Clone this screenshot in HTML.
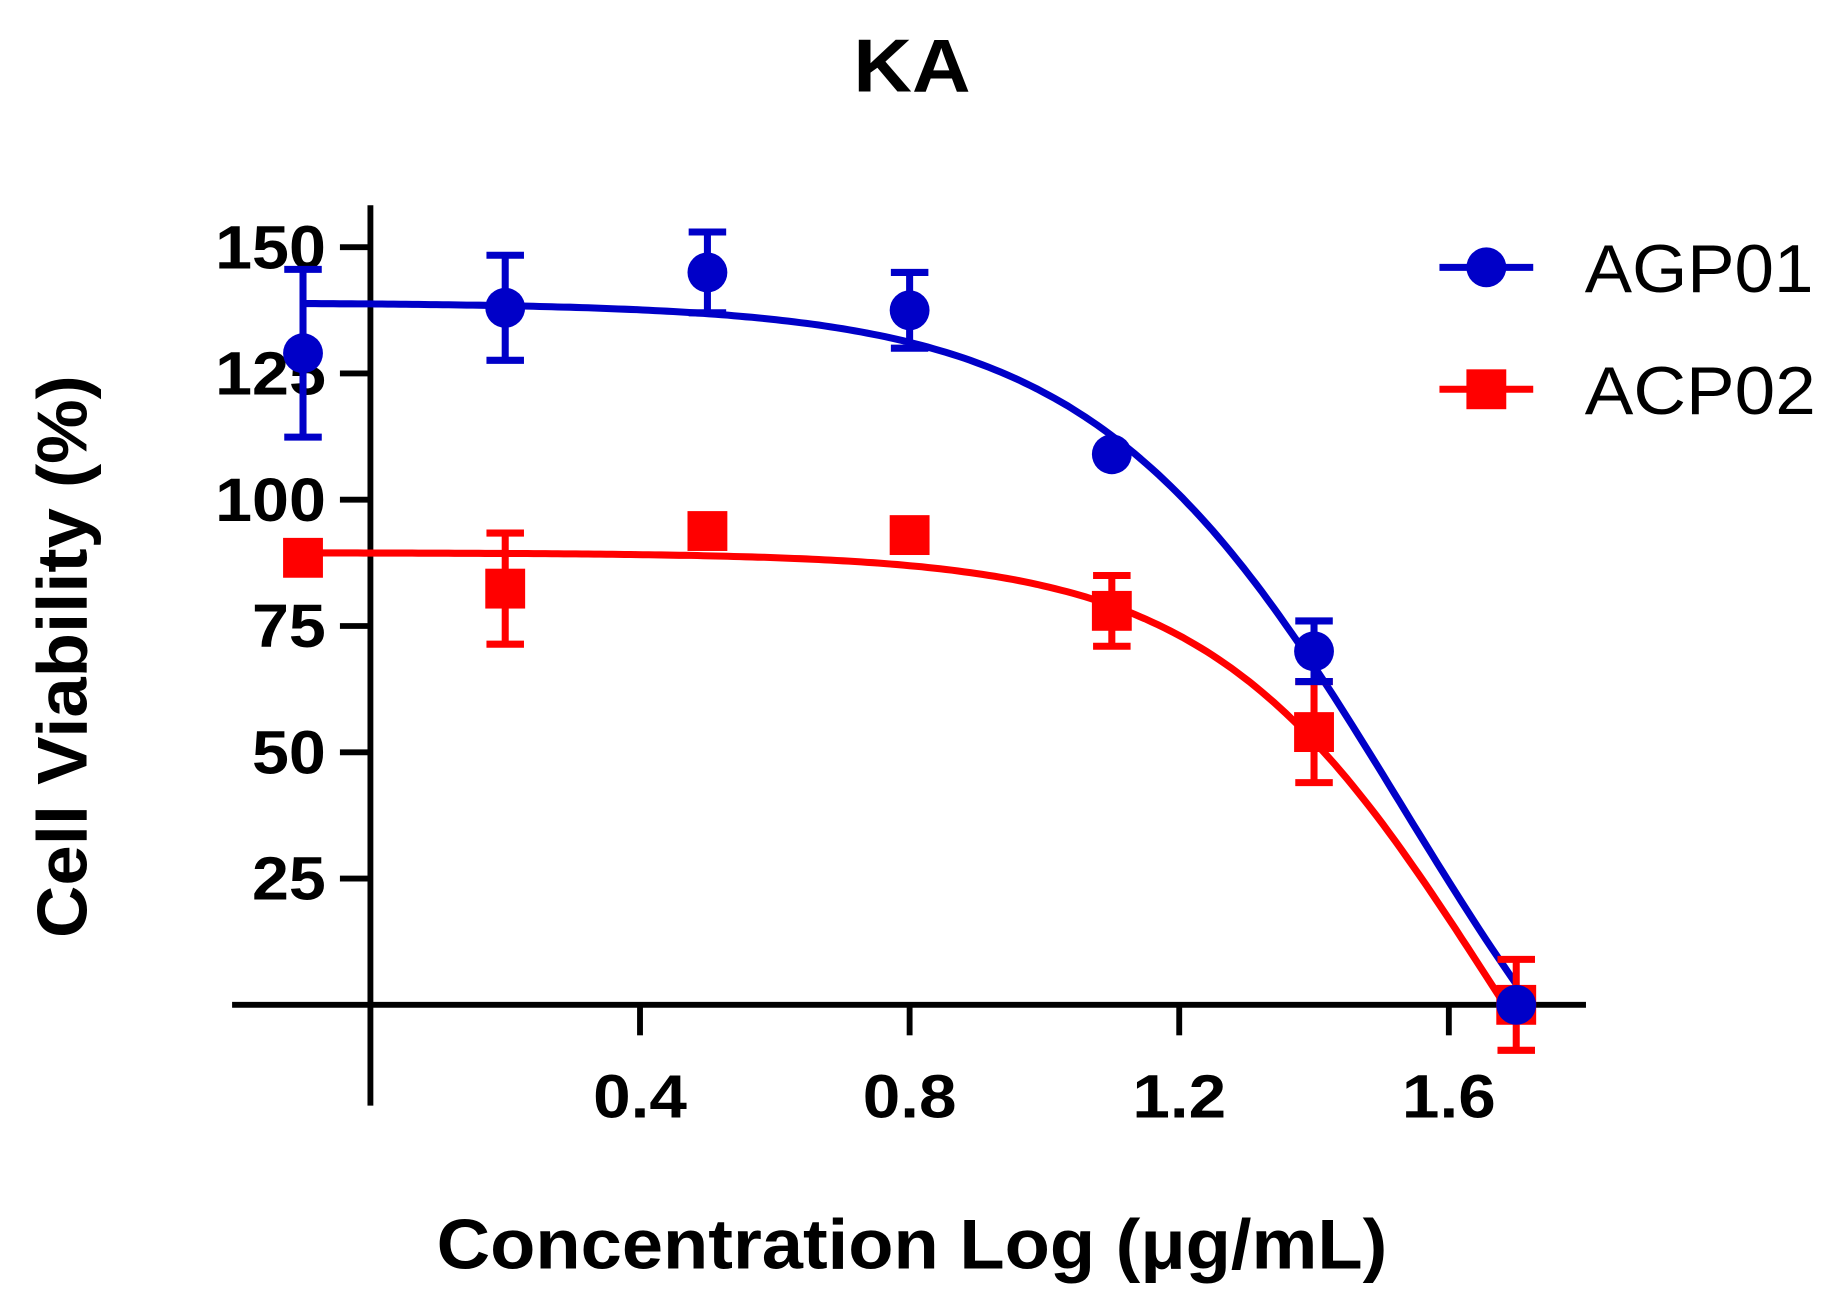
<!DOCTYPE html>
<html><head><meta charset="utf-8"><style>
html,body{margin:0;padding:0;background:#fff;}
svg{display:block;}
text{font-family:"Liberation Sans",Arial,sans-serif;}
</style></head><body>
<svg id="chart" width="1838" height="1305" viewBox="0 0 1568 1113" preserveAspectRatio="none" xmlns="http://www.w3.org/2000/svg">
<text x="778" y="78" font-size="64" font-weight="bold" text-anchor="middle" textLength="100" lengthAdjust="spacingAndGlyphs">KA</text>
<text transform="translate(74,560) rotate(-90)" font-size="60" font-weight="bold" text-anchor="middle" textLength="480" lengthAdjust="spacingAndGlyphs">Cell Viability (%)</text>
<text x="778" y="1082" font-size="60" font-weight="bold" text-anchor="middle" textLength="811" lengthAdjust="spacingAndGlyphs">Concentration Log (μg/mL)</text>
<g id="axes"></g>
<g id="marks"></g>
<g>
  <g>
    <line x1="1228" y1="228" x2="1308" y2="228" stroke="#0000c8" stroke-width="6"/>
    <circle cx="1268" cy="228" r="17" fill="#0000c8"/>
    <text x="1352" y="249" font-size="58" textLength="195" lengthAdjust="spacingAndGlyphs">AGP01</text>
  </g>
  <g>
    <line x1="1228" y1="332" x2="1308" y2="332" stroke="#ff0000" stroke-width="6"/>
    <rect x="1251" y="315" width="34" height="34" fill="#ff0000"/>
    <text x="1352" y="353" font-size="58" textLength="197" lengthAdjust="spacingAndGlyphs">ACP02</text>
  </g>
</g>
</svg>
<script>
const xValues = [-0.1, 0.2, 0.5, 0.8, 1.1, 1.4, 1.7];
const agpValues = [129, 138, 145, 137.5, 109, 70, 0];
const agpErrors = [16.6, 10.4, 8, 7.5, 0, 6, 0];
const acpValues = [88.5, 82.4, 93.8, 93, 78, 54, 0];
const acpErrors = [0, 11, 0, 0, 7, 10, 9];
const agpFit = [139, -60, 1.53, 1.9];   // top, bottom, logIC50, hill
const acpFit = [89.5, -80, 1.66, 2.11];
const yTicks = [25, 50, 75, 100, 125, 150];
const xTicks = [0.4, 0.8, 1.2, 1.6];

const NS = "http://www.w3.org/2000/svg";
const sx = v => 316 + v * 575;
const sy = v => 857 - v * 4.308;
function mk(tag, attrs, parent) {
  const e = document.createElementNS(NS, tag);
  for (const k in attrs) e.setAttribute(k, attrs[k]);
  parent.appendChild(e);
  return e;
}
const axes = document.getElementById('axes');
const marks = document.getElementById('marks');

let ax = mk('line', {x1: sx(0), y1: 175, x2: sx(0), y2: 943, stroke: '#000', 'stroke-width': 5}, axes);


ax = mk('line', {x1: 198, y1: sy(0), x2: 1353, y2: sy(0), stroke: '#000', 'stroke-width': 5}, axes);



yTicks.forEach(t => {
  const l = mk('line', {x1: sx(0) - 26, y1: sy(t), x2: sx(0), y2: sy(t), stroke: '#000', 'stroke-width': 5}, axes);
  
  
  const s = String(t);
  const tx = mk('text', {x: 278, y: sy(t) + 18, 'font-size': 52, 'font-weight': 'bold', 'text-anchor': 'end', textLength: s.length * 31.5, lengthAdjust: 'spacingAndGlyphs'}, axes);
  tx.textContent = s;
  
  
});
xTicks.forEach(t => {
  const l = mk('line', {x1: sx(t), y1: sy(0), x2: sx(t), y2: sy(0) + 26, stroke: '#000', 'stroke-width': 5}, axes);
  
  
  const tx = mk('text', {x: sx(t), y: 953, 'font-size': 52, 'font-weight': 'bold', 'text-anchor': 'middle', textLength: 80, lengthAdjust: 'spacingAndGlyphs'}, axes);
  tx.textContent = t.toFixed(1);
  
  
});

function curve(fit, color, name) {
  const [top, bot, c, h] = fit;
  let d = '';
  const x0 = xValues[0], x1 = xValues[xValues.length - 1];
  for (let i = 0; i <= 200; i++) {
    const x = x0 + (x1 - x0) * i / 200;
    const y = bot + (top - bot) / (1 + Math.pow(10, (x - c) * h));
    d += (i ? 'L' : 'M') + sx(x).toFixed(1) + ' ' + sy(Math.max(y, 0)).toFixed(1);
  }
  const p = mk('path', {d: d, fill: 'none', stroke: color, 'stroke-width': 6}, marks);
  
  
}
function errs(vals, es, color, name) {
  vals.forEach((v, i) => {
    if (!es[i]) return;
    const x = sx(xValues[i]), t = sy(v + es[i]), b = sy(v - es[i]);
    const g = mk('path', {d: `M${x} ${t}V${b}M${x-16} ${t}H${x+16}M${x-16} ${b}H${x+16}`, stroke: color, 'stroke-width': 6, fill: 'none'}, marks);
    
    
  });
}
curve(acpFit, '#ff0000', 'acp02-fit-curve');
curve(agpFit, '#0000c8', 'agp01-fit-curve');
errs(acpValues, acpErrors, '#ff0000', 'acp02-error-bar');
errs(agpValues, agpErrors, '#0000c8', 'agp01-error-bar');
acpValues.forEach((v, i) => {
  const r = mk('rect', {x: sx(xValues[i]) - 17, y: sy(v) - 17, width: 34, height: 34, fill: '#ff0000'}, marks);
  
  
});
agpValues.forEach((v, i) => {
  const c = mk('circle', {cx: sx(xValues[i]), cy: sy(v), r: 17, fill: '#0000c8'}, marks);
  
  
});
</script>
</body></html>
